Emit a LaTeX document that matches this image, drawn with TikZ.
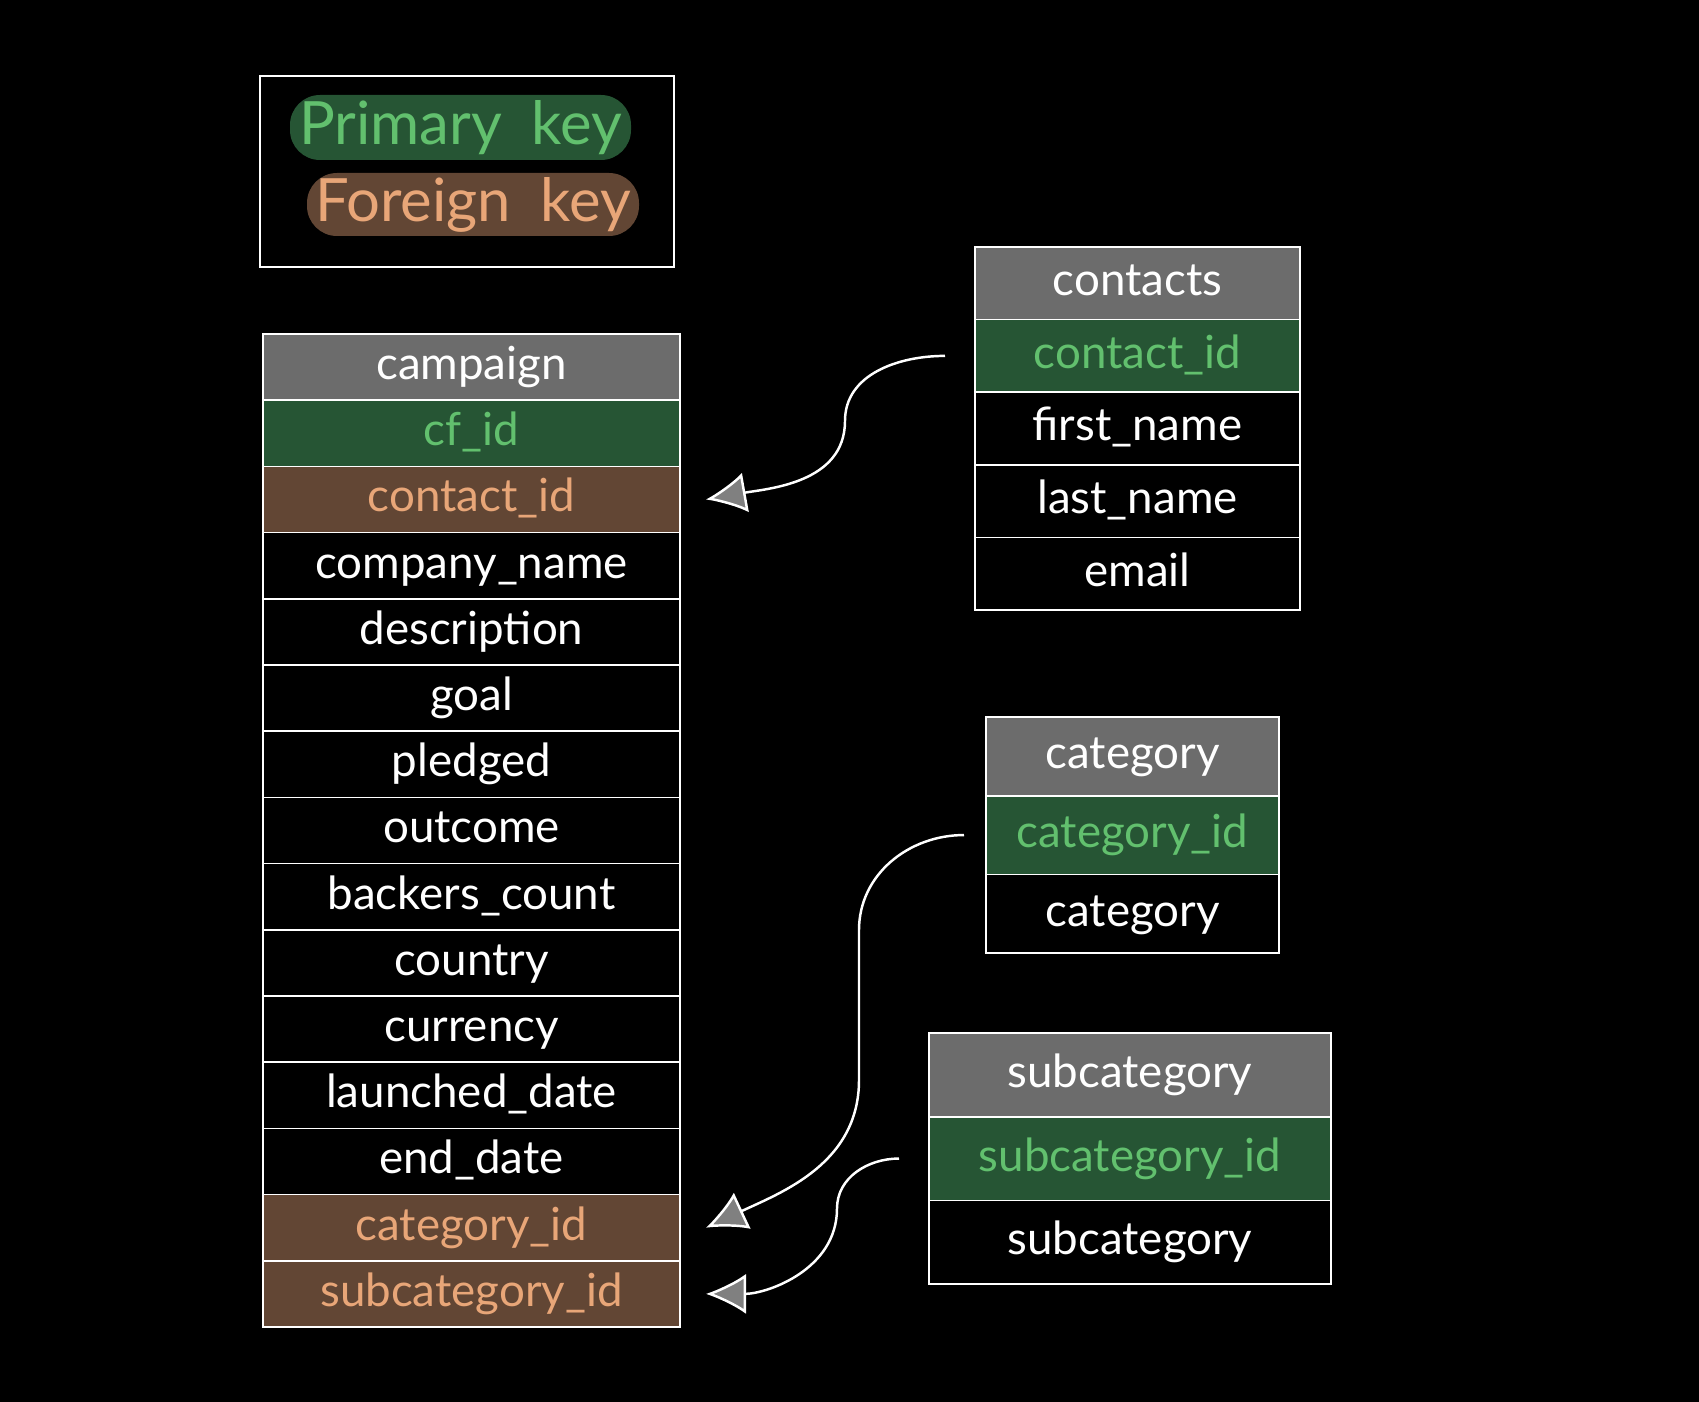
\documentclass[tikz,border=0pt]{standalone}
\usepackage{fontspec}
\setmainfont{Lato}
\usetikzlibrary{positioning,arrows.meta}
\definecolor{hdgray}{RGB}{108,108,108}
\definecolor{pkfill}{RGB}{38,85,52}
\definecolor{pktext}{RGB}{98,192,110}
\definecolor{fkfill}{RGB}{98,70,52}
\definecolor{fktext}{RGB}{232,166,120}

\begin{document}
\begin{tikzpicture}[
    node distance=0pt,
    every node/.style={font=\fontsize{13}{15}\selectfont},
    row/.style={draw=white, line width=0.5pt, text=white, inner sep=0pt, outer sep=0pt, text height=2ex, text depth=0.6ex},
    hdrow/.style={row, fill=hdgray},
    pkrow/.style={row, fill=pkfill, text=pktext},
    fkrow/.style={row, fill=fkfill, text=fktext},
    cmprow/.style={minimum width=4.17cm, minimum height=6.62mm},
    ctcrow/.style={minimum width=3.25cm, minimum height=7.26mm},
    catrow/.style={minimum width=2.93cm, minimum height=7.87mm},
    subrow/.style={minimum width=4.02cm, minimum height=8.37mm},
    pill/.style={rounded corners=3mm, inner sep=0pt, font=\fontsize{17}{20}\selectfont},
    link/.style={draw=white, line width=0.7pt, -{Latex[length=4mm,width=4mm,fill=gray]}}
  ]
  % background
  \fill[black] (0,0) rectangle (16.99,14.02);
  \useasboundingbox (0,0) rectangle (16.99,14.02);

  % Legend
  \node[draw=white, line width=0.7pt, minimum width=4.14cm, minimum height=1.91cm] (legend) at (4.67,12.305) {};
  \node[pill, fill=pkfill, text=pktext, minimum width=3.41cm, minimum height=6.5mm] (pk) at (4.605,12.745) {Primary\enspace key};
  \node[pill, fill=fkfill, text=fktext, minimum width=3.32cm, minimum height=6.3mm] (fk) at (4.73,11.975) {Foreign\enspace key};

  % Campaign table
  \node[hdrow, cmprow] (cmp1) at (4.715,10.349) {campaign};
  \node[pkrow, cmprow, below=of cmp1] (cmp2) {cf\_id};
  \node[fkrow, cmprow, below=of cmp2] (cmp3) {contact\_id};
  \node[row, cmprow, below=of cmp3] (cmp4) {company\_name};
  \node[row, cmprow, below=of cmp4] (cmp5) {description};
  \node[row, cmprow, below=of cmp5] (cmp6) {goal};
  \node[row, cmprow, below=of cmp6] (cmp7) {pledged};
  \node[row, cmprow, below=of cmp7] (cmp8) {outcome};
  \node[row, cmprow, below=of cmp8] (cmp9) {backers\_count};
  \node[row, cmprow, below=of cmp9] (cmp10) {country};
  \node[row, cmprow, below=of cmp10] (cmp11) {currency};
  \node[row, cmprow, below=of cmp11] (cmp12) {launched\_date};
  \node[row, cmprow, below=of cmp12] (cmp13) {end\_date};
  \node[fkrow, cmprow, below=of cmp13] (cmp14) {category\_id};
  \node[fkrow, cmprow, below=of cmp14] (cmp15) {subcategory\_id};

  % Contacts table
  \node[hdrow, ctcrow] (ctc1) at (11.375,11.187) {contacts};
  \node[pkrow, ctcrow, below=of ctc1] (ctc2) {contact\_id};
  \node[row, ctcrow, below=of ctc2] (ctc3) {first\_name};
  \node[row, ctcrow, below=of ctc3] (ctc4) {last\_name};
  \node[row, ctcrow, below=of ctc4] (ctc5) {email};

  % Category table
  \node[hdrow, catrow] (cat1) at (11.325,6.4565) {category};
  \node[pkrow, catrow, below=of cat1] (cat2) {category\_id};
  \node[row, catrow, below=of cat2] (cat3) {category};

  % Subcategory table
  \node[hdrow, subrow] (sub1) at (11.30,3.2715) {subcategory};
  \node[pkrow, subrow, below=of sub1] (sub2) {subcategory\_id};
  \node[row, subrow, below=of sub2] (sub3) {subcategory};

  % Links
  \draw[link] ([xshift=-3mm]ctc2.west) to[out=180,in=90] ++(-1.0,-0.65) to[out=-90,in=10] ([xshift=2.6mm]cmp3.east);
  \draw[link] ([xshift=-2.2mm]cat2.west) to[out=180,in=90] ++(-1.05,-0.95) -- ++(0,-1.5) to[out=-90,in=25] ([xshift=2.6mm]cmp14.east);
  \draw[link] ([xshift=-3mm]sub2.west) to[out=180,in=90] ++(-0.62,-0.5) to[out=-90,in=0] ([xshift=2.6mm]cmp15.east);
\end{tikzpicture}
\end{document}
